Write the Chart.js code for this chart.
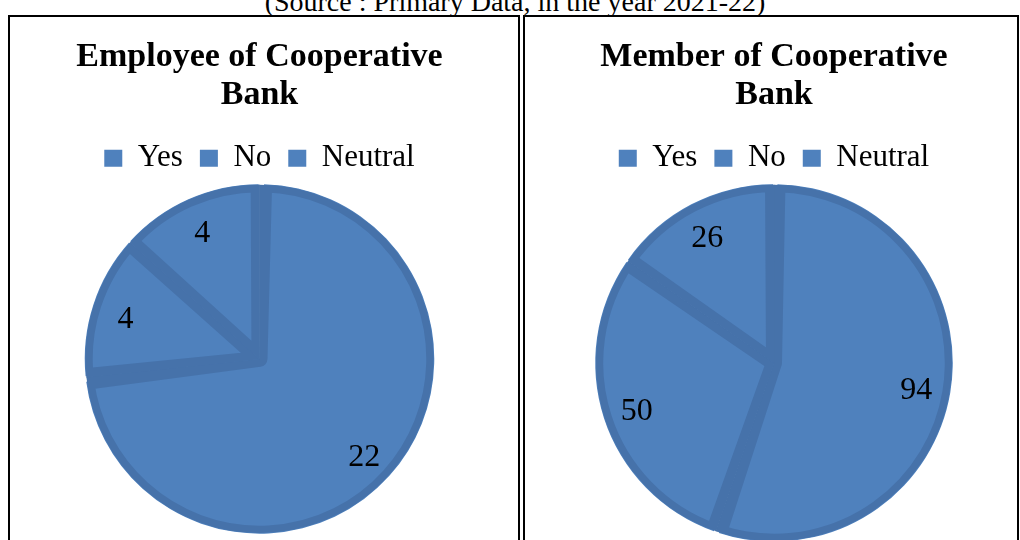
<!DOCTYPE html>
<html>
<head>
<meta charset="utf-8">
<script src="https://cdn.jsdelivr.net/npm/chart.js@4.4.1/dist/chart.umd.min.js"></script>
<style>
  html, body { margin: 0; padding: 0; background: #fff; overflow: hidden; }
  body { width: 1020px; height: 540px; position: relative; font-family: 'Liberation Serif', 'Times New Roman', serif; }
  #source { position: absolute; left: 0; width: 1030px; top: -12px; text-align: center; font-size: 28px; line-height: 28px; color: #000; white-space: nowrap; }
  .box { position: absolute; top: 15px; height: 560px; border: 2px solid #000; box-sizing: border-box; }
  #boxLeft { left: 8px; width: 512px; }
  #boxRight { left: 523px; width: 496px; }
  .wrap { position: absolute; left: 0; top: 0; right: 0; height: 525px; }
</style>
</head>
<body>
<div id="source">(Source : Primary Data, in the year 2021-22)</div>
<div class="box" id="boxLeft"><div class="wrap"><canvas id="chartEmployee"></canvas></div></div>
<div class="box" id="boxRight"><div class="wrap"><canvas id="chartMember"></canvas></div></div>
<script>
const categories = ['Yes', 'No', 'Neutral'];
const employeeValues = [22, 4, 4];
const memberValues = [94, 50, 26];
const employeeTitle = ['Employee of Cooperative', 'Bank'];
const memberTitle = ['Member of Cooperative', 'Bank'];

const fill = '#4F81BD';
const edge = '#4672AA';
const serif = "'Liberation Serif', 'Times New Roman', serif";

// labels inside slices
const sliceLabels = {
  id: 'sliceLabels',
  afterDatasetsDraw(chart) {
    const ctx = chart.ctx;
    const meta = chart.getDatasetMeta(0);
    ctx.save();
    ctx.font = '32px ' + serif;
    ctx.fillStyle = '#000';
    ctx.textAlign = 'center';
    ctx.textBaseline = 'middle';
    meta.data.forEach((arc, i) => {
      const p = arc.getProps(['x', 'y', 'startAngle', 'endAngle', 'outerRadius'], true);
      const mid = (p.startAngle + p.endAngle) / 2;
      const r = p.outerRadius * 0.81;
      ctx.fillText(chart.data.datasets[0].data[i], p.x + Math.cos(mid) * r, p.y + Math.sin(mid) * r + 4);
    });
    ctx.restore();
  }
};

function drawPie(id, title, values, pad) {
  const ctx = document.getElementById(id).getContext('2d');
  return new Chart(ctx, {
    type: 'pie',
    data: {
      labels: categories,
      datasets: [{
        data: values,
        backgroundColor: fill,
        borderColor: edge,
        borderWidth: 8,
        borderAlign: 'inner',
        spacing: 2
      }]
    },
    options: {
      responsive: true,
      maintainAspectRatio: false,
      animation: false,
      layout: { padding: pad },
      plugins: {
        title: {
          display: true,
          text: title,
          color: '#000',
          font: { family: serif, size: 34, weight: 'bold', lineHeight: 1.1 },
          padding: { top: 22, bottom: 12 }
        },
        legend: {
          position: 'top',
          labels: {
            color: '#000',
            font: { family: serif, size: 31 },
            boxWidth: 18,
            boxHeight: 17,
            padding: 17,
            generateLabels(chart) {
              return Chart.overrides.pie.plugins.legend.labels.generateLabels(chart).map(l => {
                l.lineWidth = 0;
                l.strokeStyle = fill;
                l.fillStyle = fill;
                return l;
              });
            }
          }
        },
        tooltip: { enabled: false }
      }
    },
    plugins: [sliceLabels]
  });
}

drawPie('chartEmployee', employeeTitle, employeeValues, { bottom: 8, right: 9 });
drawPie('chartMember', memberTitle, memberValues, { bottom: 0, left: 6 });
</script>
</body>
</html>
